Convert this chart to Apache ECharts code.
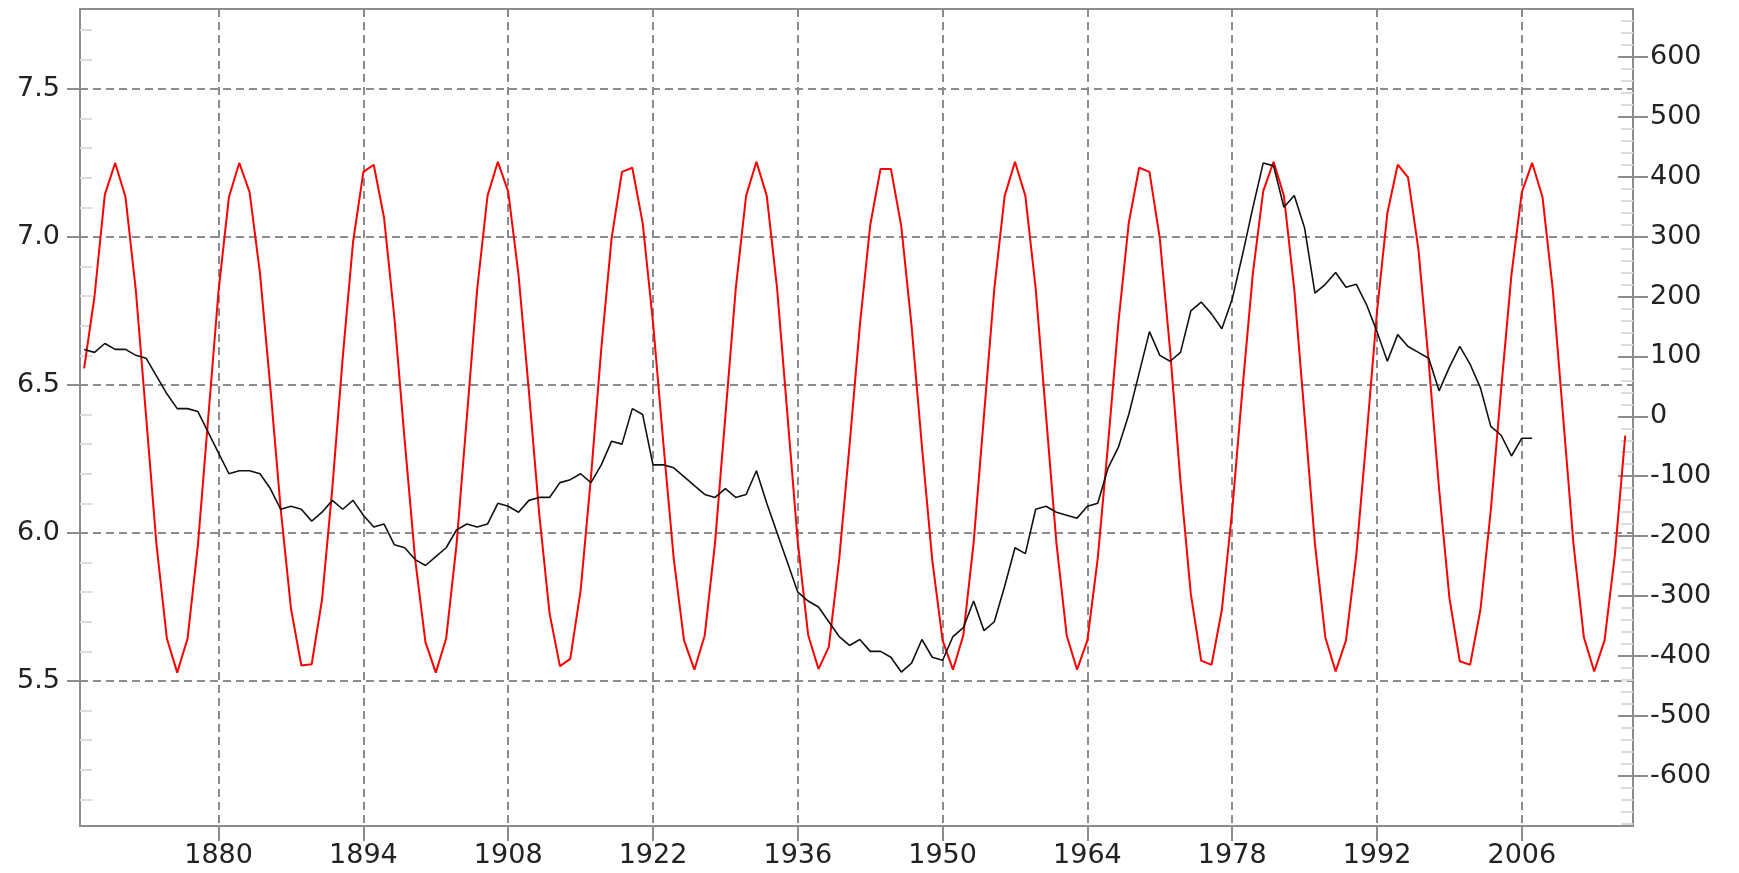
<!DOCTYPE html>
<html>
<head>
<meta charset="utf-8">
<script src="https://cdn.jsdelivr.net/npm/echarts@6/dist/echarts.min.js"></script>
<style>
html,body{margin:0;padding:0;background:#fff;}
#chart{width:1739px;height:873px;}
</style>
</head>
<body>
<div id="chart"></div>
<script>
// ---- tick values ----
const xTickYears = [1880, 1894, 1908, 1922, 1936, 1950, 1964, 1978, 1992, 2006];
const leftTicks = [5.5, 6.0, 6.5, 7.0, 7.5];
const leftMinorTicks = [5.1, 5.2, 5.3, 5.4, 5.6, 5.7, 5.8, 5.9, 6.1, 6.2, 6.3, 6.4,
  6.6, 6.7, 6.8, 6.9, 7.1, 7.2, 7.3, 7.4, 7.6, 7.7];
const rightTicks = [-600, -500, -400, -300, -200, -100, 0, 100, 200, 300, 400, 500, 600];
const rightMinorTicks = [-680, -660, -640, -620, -580, -560, -540, -520, -480, -460, -440, -420,
  -380, -360, -340, -320, -280, -260, -240, -220, -180, -160, -140, -120, -80, -60, -40, -20,
  20, 40, 60, 80, 120, 140, 160, 180, 220, 240, 260, 280, 320, 340, 360, 380,
  420, 440, 460, 480, 520, 540, 560, 580, 620, 640, 660];

// ---- black series (left axis), yearly from 1867 ----
const blackFirstYear = 1867;
const blackValues = [
  6.62, 6.61, 6.64,
  6.62, 6.62, 6.60, 6.59, 6.53, 6.47, 6.42, 6.42, 6.41, 6.34,
  6.27, 6.20, 6.21, 6.21, 6.20, 6.15, 6.08, 6.09, 6.08, 6.04,
  6.07, 6.11, 6.08, 6.11, 6.06, 6.02, 6.03, 5.96, 5.95, 5.91,
  5.89, 5.92, 5.95, 6.01, 6.03, 6.02, 6.03, 6.10, 6.09, 6.07,
  6.11, 6.12, 6.12, 6.17, 6.18, 6.20, 6.17, 6.23, 6.31, 6.30,
  6.42, 6.40, 6.23, 6.23, 6.22, 6.19, 6.16, 6.13, 6.12, 6.15,
  6.12, 6.13, 6.21, 6.10, 6.00, 5.90, 5.80, 5.77, 5.75, 5.70,
  5.65, 5.62, 5.64, 5.60, 5.60, 5.58, 5.53, 5.56, 5.64, 5.58,
  5.57, 5.65, 5.68, 5.77, 5.67, 5.70, 5.82, 5.95, 5.93, 6.08,
  6.09, 6.07, 6.06, 6.05, 6.09, 6.10, 6.22, 6.29, 6.40, 6.54,
  6.68, 6.60, 6.58, 6.61, 6.75, 6.78, 6.74, 6.69, 6.79, 6.94,
  7.10, 7.25, 7.24, 7.10, 7.14, 7.03, 6.81, 6.84, 6.88, 6.83,
  6.84, 6.77, 6.68, 6.58, 6.67, 6.63, 6.61, 6.59, 6.48, 6.56,
  6.63, 6.57, 6.49, 6.36, 6.33, 6.26, 6.32, 6.32
];

// ---- red cycle series (right axis), yearly from 1867 ----
const redFirstYear = 1867;
const redValues = [
  80, 200, 370,
  423, 366, 210, -2, -215, -371, -428, -371, -215, -2,
  210, 366, 423, 374, 239, 49, -154, -321, -416, -414,
  -306, -119, 98, 291, 408, 420, 331, 164, -42, -238,
  -377, -428, -371, -215, -2, 212, 368, 425, 375, 236,
  42, -163, -329, -417, -405, -291, -102, 113, 298, 408,
  415, 323, 157, -45, -237, -374, -423, -366, -211, 1,
  213, 368, 425, 368, 213, 2, -210, -365, -422, -385,
  -239, -49, 152, 319, 413, 413, 318, 151, -50, -240,
  -374, -423, -366, -211, 1, 213, 368, 425, 368, 213,
  1, -211, -366, -423, -374, -237, -46, 157, 323, 415,
  408, 297, 109, -109, -297, -408, -415, -323, -157, 47,
  239, 376, 425, 368, 212, 0, -213, -369, -426, -374,
  -231, -32, 175, 339, 420, 399, 279, 90, -121, -303,
  -409, -415, -323, -157, 45, 237, 374, 423, 366, 211,
  -2, -214, -369, -426, -374, -231, -32
];

const blackData = blackValues.map((v, i) => [blackFirstYear + i, v]);
const redData = redValues.map((v, i) => [redFirstYear + i, v]);

const FONT = 'DejaVu Sans';
const AX = '#8c8c8c';
const labelStyle = { fontFamily: FONT, fontSize: 27, color: '#222' };
const LMIN = 5.01, LMAX = 7.77, RMIN = -684, RMAX = 680;

const chart = echarts.init(document.getElementById('chart'), null, { renderer: 'canvas' });
chart.setOption({
  animation: false,
  backgroundColor: '#fff',
  grid: { left: 80, top: 9, width: 1553, height: 817, show: true, borderColor: AX, borderWidth: 2, backgroundColor: 'transparent' },
  xAxis: [{
    type: 'value', min: 1866.6, max: 2016.75, position: 'bottom',
    axisLine: { show: true, onZero: false, lineStyle: { color: AX, width: 2 } },
    axisTick: { show: true, customValues: xTickYears, length: 15, lineStyle: { color: AX, width: 2 } },
    axisLabel: Object.assign({ customValues: xTickYears, margin: 16, formatter: v => String(v) }, labelStyle),
    splitLine: { show: true, lineStyle: { color: AX, width: 2, type: [8, 5] } }
  }],
  yAxis: [
    {
      type: 'value', position: 'left', min: LMIN, max: LMAX,
      axisLine: { show: true, onZero: false, lineStyle: { color: AX, width: 2 } },
      axisTick: { show: true, customValues: leftTicks, length: 13, lineStyle: { color: AX, width: 2 } },
      axisLabel: Object.assign({ customValues: leftTicks, margin: 20, formatter: v => v.toFixed(1) }, labelStyle),
      splitLine: { show: true, lineStyle: { color: AX, width: 2, type: [8, 5] } }
    },
    {
      type: 'value', position: 'right', min: RMIN, max: RMAX,
      axisLine: { show: true, onZero: false, lineStyle: { color: AX, width: 2 } },
      axisTick: { show: true, customValues: rightTicks, length: 15, lineStyle: { color: AX, width: 2 } },
      axisLabel: Object.assign({ customValues: rightTicks, margin: 17, formatter: v => String(v) }, labelStyle),
      splitLine: { show: false }
    },
    {
      type: 'value', position: 'left', min: LMIN, max: LMAX,
      axisLine: { show: false, onZero: false },
      axisTick: { show: true, inside: true, customValues: leftMinorTicks, length: 12, lineStyle: { color: '#dcdcdc', width: 2 } },
      axisLabel: { show: false },
      splitLine: { show: false }
    },
    {
      type: 'value', position: 'right', min: RMIN, max: RMAX,
      axisLine: { show: false, onZero: false },
      axisTick: { show: true, inside: true, customValues: rightMinorTicks, length: 12, lineStyle: { color: '#dcdcdc', width: 2 } },
      axisLabel: { show: false },
      splitLine: { show: false }
    },
    {
      type: 'value', position: 'right', min: RMIN, max: RMAX,
      axisLine: { show: false, onZero: false },
      axisTick: { show: true, inside: true, customValues: rightTicks, length: 15, lineStyle: { color: AX, width: 2 } },
      axisLabel: { show: false },
      splitLine: { show: false }
    }
  ],
  series: [
    {
      name: 'cycle', type: 'line', yAxisIndex: 1, data: redData,
      showSymbol: false, symbol: 'none', smooth: false,
      lineStyle: { color: '#ff0000', width: 2 }, z: 2
    },
    {
      name: 'series', type: 'line', yAxisIndex: 0, data: blackData,
      showSymbol: false, symbol: 'none', smooth: false,
      lineStyle: { color: '#111111', width: 1.6 }, z: 3
    }
  ]
});
</script>
</body>
</html>
